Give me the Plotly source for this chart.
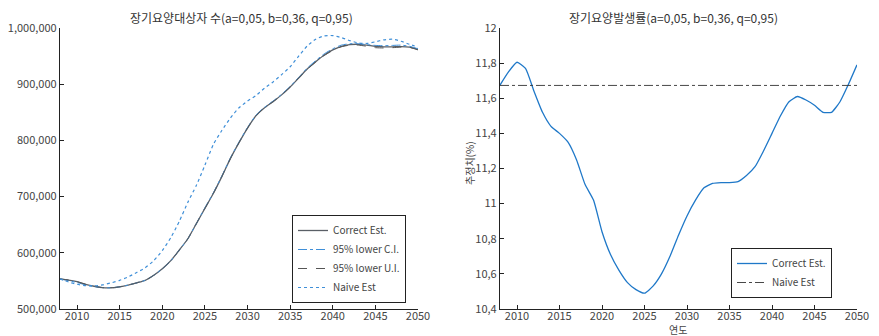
import plotly.graph_objects as go

years = list(range(2008, 2051))

# Left panel: 장기요양대상자 수
correct_est = [553500, 551500, 548500, 544000, 540500, 538000, 537800, 539500, 542500, 546500,
               551000, 560000, 571500, 586000, 605000, 625000, 652000, 679000, 706000, 736000,
               768000, 796000, 822000, 844000, 858000, 869000, 881000, 895000, 911000, 927000,
               940000, 952000, 961000, 967500, 970500, 971000, 969500, 967500, 966500, 966500,
               967000, 966000, 962000]
lower_ci = [553500, 550500, 547000, 543000, 540000, 538000, 537800, 539500, 542500, 546500,
            551000, 560000, 571500, 586000, 605000, 625000, 652000, 680000, 707000, 737000,
            769000, 797000, 823000, 845000, 859000, 870000, 882000, 896000, 912000, 928500,
            942000, 954000, 963000, 969500, 972000, 972000, 970500, 969000, 968500, 969000,
            969500, 967500, 963000]
upper_ui = [553500, 551500, 548500, 544000, 540500, 538000, 537800, 539500, 542500, 546500,
            551000, 560000, 571500, 586000, 605000, 625000, 652000, 679000, 706000, 736000,
            768000, 796000, 822000, 844000, 858000, 869000, 881000, 895000, 911000, 926500,
            939500, 951000, 960000, 966500, 969500, 969500, 967500, 965000, 964500, 965000,
            966000, 965500, 961000]
naive_est = [553500, 548000, 544000, 541500, 541000, 543000, 546500, 551000, 557000, 565000,
             573500, 586000, 604000, 627000, 656000, 690000, 720000, 756000, 793000, 818000,
             840000, 858000, 870000, 880000, 893000, 904000, 917000, 931000, 950000, 968000,
             980000, 986000, 986500, 983000, 977500, 973500, 972500, 975500, 979000, 980000,
             976500, 971000, 966000]

# Right panel: 장기요양발생률 (%)
rate_correct = [11.675, 11.75, 11.805, 11.77, 11.64, 11.52, 11.44, 11.40, 11.35, 11.25,
                11.11, 11.02, 10.84, 10.71, 10.62, 10.55, 10.51, 10.49, 10.53, 10.60,
                10.70, 10.82, 10.93, 11.02, 11.09, 11.115, 11.12, 11.12, 11.125, 11.16,
                11.21, 11.30, 11.40, 11.50, 11.58, 11.61, 11.59, 11.56, 11.52, 11.52,
                11.58, 11.68, 11.79]
rate_naive = [11.673] * len(years)

left_yticks = [500000, 600000, 700000, 800000, 900000, 1000000]
right_yticks = [10.4, 10.6, 10.8, 11.0, 11.2, 11.4, 11.6, 11.8, 12.0]
right_yticktext = ["10,4", "10,6", "10,8", "11", "11,2", "11,4", "11,6", "11,8", "12"]
xticks = [2010, 2015, 2020, 2025, 2030, 2035, 2040, 2045, 2050]

title_left = "장기요양대상자 수(a=0,05, b=0,36, q=0,95)"
title_right = "장기요양발생률(a=0,05, b=0,36, q=0,95)"
xlabel_right = "연도"
ylabel_right = "추정치(%)"

FONT = "Noto Sans CJK KR"
TXT = "#444444"
BLUE = "#3f8fd8"

# page body has an 8px default margin; figure sized to fill the rest of the window
OFF = 8
W, H = 879 - OFF, 336 - OFF


def px(x):
    return (x - OFF) / W


def py(y):
    return 1 - (y - OFF) / H


fig = go.Figure()

fig.add_trace(go.Scatter(x=years, y=correct_est, name="Correct Est.", mode="lines",
                         line=dict(color="#5a5f66", width=1.3, shape="spline", smoothing=0.6),
                         xaxis="x", yaxis="y", legend="legend"))
fig.add_trace(go.Scatter(x=years, y=lower_ci, name="95% lower C.I.", mode="lines",
                         line=dict(color=BLUE, width=1, dash="dashdot", shape="spline", smoothing=0.6),
                         xaxis="x", yaxis="y", legend="legend"))
fig.add_trace(go.Scatter(x=years, y=upper_ui, name="95% lower U.I.", mode="lines",
                         line=dict(color="#555555", width=1, dash="dash", shape="spline", smoothing=0.6),
                         xaxis="x", yaxis="y", legend="legend"))
fig.add_trace(go.Scatter(x=years, y=naive_est, name="Naive Est", mode="lines",
                         line=dict(color=BLUE, width=1.2, dash="dot", shape="spline", smoothing=0.6),
                         xaxis="x", yaxis="y", legend="legend"))

fig.add_trace(go.Scatter(x=years, y=rate_correct, name="Correct Est.", mode="lines",
                         line=dict(color="#1f78c8", width=1.3, shape="spline", smoothing=0.5),
                         xaxis="x2", yaxis="y2", legend="legend2"))
fig.add_trace(go.Scatter(x=years, y=rate_naive, name="Naive Est", mode="lines",
                         line=dict(color="#333333", width=0.9, dash="dashdot"),
                         xaxis="x2", yaxis="y2", legend="legend2"))

axis_common = dict(showgrid=False, zeroline=False, showline=True, linecolor="#222222",
                   linewidth=1.2, ticks="inside", ticklen=4, tickcolor="#222222",
                   tickfont=dict(family=FONT, size=11, color=TXT), mirror=False,
                   automargin=False)

fig.update_layout(
    width=W, height=H,
    margin=dict(l=0, r=0, t=0, b=0, autoexpand=False),
    paper_bgcolor="white", plot_bgcolor="white",
    font=dict(family=FONT, size=11, color=TXT),
    xaxis=dict(domain=[px(60), px(418)], range=[2008, 2050], tickvals=xticks,
               anchor="y", ticklabelstandoff=-3, **axis_common),
    yaxis=dict(domain=[py(309), py(28)], range=[500000, 1000000], tickvals=left_yticks,
               tickformat=",", anchor="x", **axis_common),
    xaxis2=dict(domain=[px(500), px(857)], range=[2008, 2050], tickvals=xticks,
                anchor="y2", ticklabelstandoff=-3, **axis_common),
    yaxis2=dict(domain=[py(309), py(28)], range=[10.4, 12.0], tickvals=right_yticks,
                ticktext=right_yticktext, anchor="x2", **axis_common),
    legend=dict(x=px(292), y=py(215), xanchor="left", yanchor="top",
                bordercolor="#222222", borderwidth=1, bgcolor="white",
                font=dict(family=FONT, size=10, color=TXT), tracegroupgap=0,
                itemwidth=30),
    legend2=dict(x=px(731), y=py(248), xanchor="left", yanchor="top",
                 bordercolor="#222222", borderwidth=1, bgcolor="white",
                 font=dict(family=FONT, size=10, color=TXT), tracegroupgap=0,
                 itemwidth=30),
    showlegend=True,
    annotations=[
        dict(text=title_left, x=px(241), y=py(17), xref="paper", yref="paper",
             showarrow=False, font=dict(family=FONT, size=12, color="#333333"),
             xanchor="center", yanchor="middle"),
        dict(text=title_right, x=px(673), y=py(17), xref="paper", yref="paper",
             showarrow=False, font=dict(family=FONT, size=12, color="#333333"),
             xanchor="center", yanchor="middle"),
        dict(text=xlabel_right, x=px(678), y=py(329), xref="paper", yref="paper",
             showarrow=False, font=dict(family=FONT, size=10, color=TXT),
             xanchor="center", yanchor="middle"),
        dict(text=ylabel_right, x=px(469), y=py(163), xref="paper", yref="paper",
             showarrow=False, textangle=-90, font=dict(family=FONT, size=10, color=TXT),
             xanchor="center", yanchor="middle"),
    ],
)

fig.write_html("out.html")
